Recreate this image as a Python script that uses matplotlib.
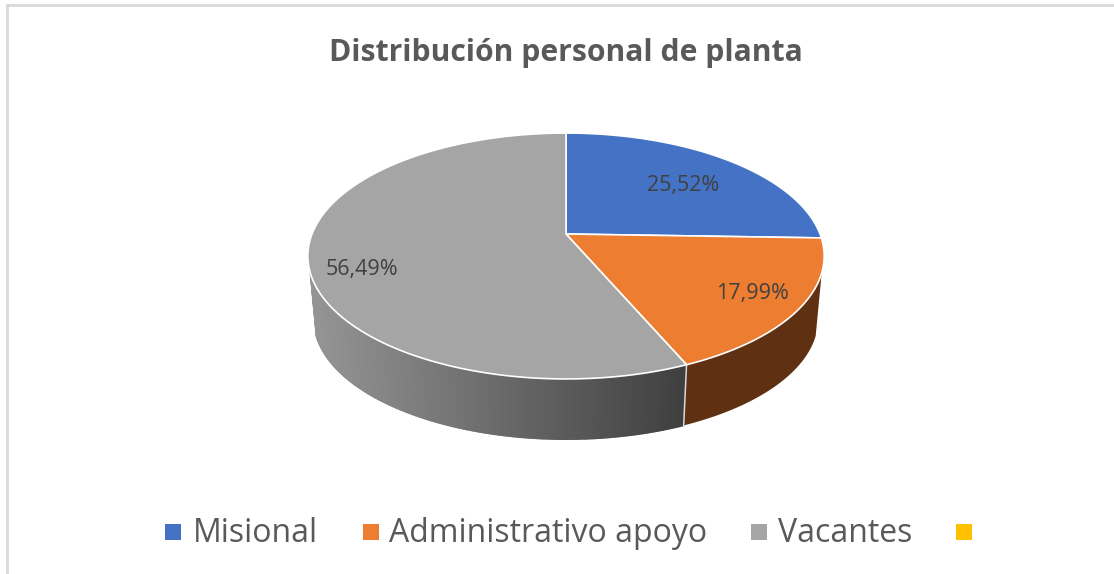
import numpy as np
import matplotlib
matplotlib.use("Agg")
import matplotlib.pyplot as plt
from matplotlib.patches import Polygon, Rectangle

categories = ["Misional", "Administrativo apoyo", "Vacantes", ""]
values = [25.52, 17.99, 56.49, 0]
labels = ["25,52%", "17,99%", "56,49%"]
colors = ["#4472C4", "#ED7D31", "#A5A5A5", "#FFC000"]
side_color = "#5F3112"

plt.rcParams['font.family'] = ['Open Sans', 'DejaVu Sans']

fig = plt.figure(figsize=(11.14, 5.74), dpi=100)
ax = fig.add_axes([0, 0, 1, 1])
ax.set_xlim(0, 1114)
ax.set_ylim(574, 0)
ax.axis('off')

# pie is drawn with a fake perspective, one projection for the top and one for the base
CX = 566
K = 0.179


def project(deg, r=1.0, rx=254, ry=119, cy=234):
    t = np.radians(deg)
    X = r * np.sin(t)
    Y = r * np.cos(t)
    s = 1 / (1 + K * Y)
    return CX + rx * X * s, cy - ry * Y * s


def top(deg):
    return project(deg)


def base(deg):
    return project(deg, rx=248, ry=116, cy=298)


edges = np.cumsum([0] + values[:3]) * 3.6
VIS_START = 108
VIS_END = 252

# orange wall in one piece
th = np.linspace(VIS_START, edges[2], 120)
tx, ty = top(th)
bx, by = base(th)
wall = list(zip(tx, ty)) + list(zip(bx[::-1], by[::-1]))
ax.add_patch(Polygon(wall, closed=True, facecolor=side_color, edgecolor='none', zorder=2))

# gray wall, strip by strip for the gradient
angles = np.linspace(edges[2], VIS_END, 260)
for a0, a1 in zip(angles[:-1], angles[1:]):
    x0, y0 = top(a0)
    x1, y1 = top(a1)
    x2, y2 = base(a1)
    x3, y3 = base(a0)
    f = np.clip((x0 - 315) / (684 - 315), 0, 1)
    v = 0.58 + (0.25 - 0.58) * f
    c = (v, v, v)
    ax.add_patch(Polygon([(x0, y0), (x1, y1), (x2, y2), (x3, y3)], closed=True,
                         facecolor=c, edgecolor=c, lw=1.0, zorder=2))

# line between the two walls
lx, ly = top(edges[2])
ex, ey = base(edges[2])
ax.plot([lx, ex], [ly, ey], color='#D9D9D9', lw=1.1, zorder=3)

# top of the pie
for i in range(3):
    th = np.linspace(edges[i], edges[i + 1], 150)
    px, py = top(th)
    pts = [(CX, 234)] + list(zip(px, py))
    ax.add_patch(Polygon(pts, closed=True, facecolor=colors[i], edgecolor='white',
                         lw=1.2, joinstyle='round', zorder=4))

ax.text(683, 186, labels[0], fontsize=15.5, color='#404040', ha='center', va='center', zorder=5)
ax.text(752, 293, labels[1], fontsize=15.5, color='#404040', ha='center', va='center', zorder=5)
ax.text(362, 270, labels[2], fontsize=15.5, color='#404040', ha='center', va='center', zorder=5)

ax.text(566, 53, "Distribución personal de planta", fontsize=21.7, fontweight='bold',
        color='#595959', ha='center', va='center')

# legend
legend_box_x = [165, 363, 751, 956]
legend_text_x = [193, 389, 778]
for i in range(4):
    ax.add_patch(Rectangle((legend_box_x[i], 524), 16, 16, facecolor=colors[i], edgecolor='none'))
    if categories[i]:
        ax.text(legend_text_x[i], 533, categories[i], fontsize=23, color='#595959',
                ha='left', va='center')

# chart frame, cut on the right and at the bottom
ax.plot([7, 7], [574, 5], color='#D9D9D9', lw=2)
ax.plot([7, 1114], [5, 5], color='#D9D9D9', lw=2)

fig.savefig("out.png", dpi=100)
